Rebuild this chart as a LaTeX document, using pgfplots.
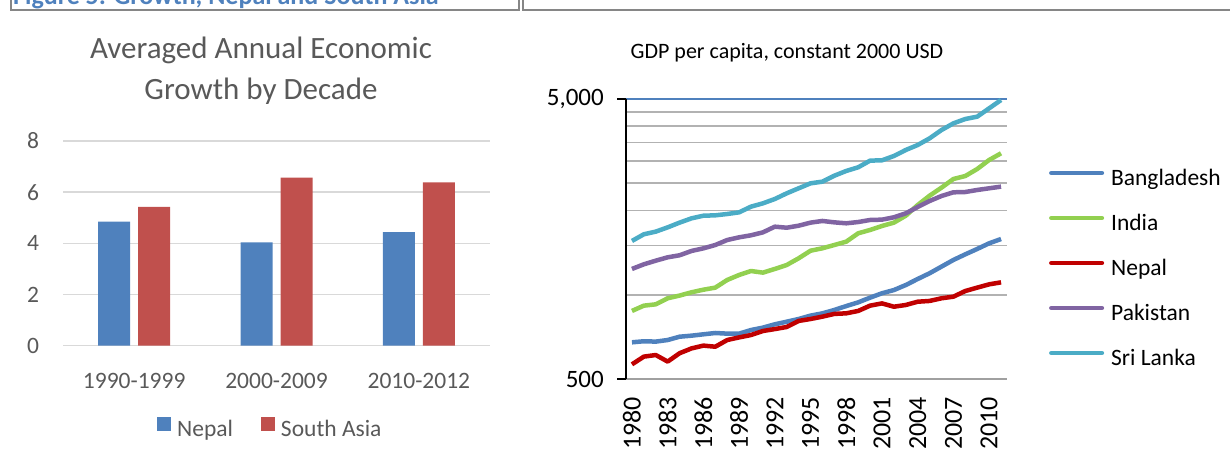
\documentclass[border=0pt]{standalone}
\usepackage{fontspec}
\setmainfont{Carlito}
\usepackage{pgfplots}
\pgfplotsset{compat=1.18}

\definecolor{capblue}{HTML}{4F81BD}
\definecolor{framegray}{HTML}{868686}
\definecolor{txtgray}{HTML}{595959}
\definecolor{gridlight}{HTML}{D9D9D9}
\definecolor{gridgray}{HTML}{B2B2B2}
\definecolor{axisgray}{HTML}{A0A0A0}
\definecolor{nepalbar}{HTML}{4F81BD}
\definecolor{sabar}{HTML}{C0504D}
\definecolor{bgd}{HTML}{4F81BD}
\definecolor{ind}{HTML}{92D050}
\definecolor{npl}{HTML}{C00000}
\definecolor{pak}{HTML}{8064A2}
\definecolor{lka}{HTML}{4BACC6}

\begin{document}
\begin{tikzpicture}[x=1pt,y=1pt]
\useasboundingbox (0,0) rectangle (1230,461);
\clip (0,0) rectangle (1230,461);

% caption, cut at the top edge
\node[anchor=base west, inner sep=0pt, text=capblue,
      font=\fontsize{26}{30}\selectfont\bfseries] at (13,456)
      {Figure 5: Growth, Nepal and South Asia};

% panel frames
\draw[framegray, line width=2pt] (11,470) -- (11,451) -- (519,451) -- (519,470);
\draw[framegray, line width=2pt] (523,470) -- (523,451) -- (1240,451);

% left chart title
\node[anchor=base, inner sep=0pt, text=txtgray, font=\fontsize{31}{41}\selectfont]
      at (261,402) {Averaged Annual Economic};
\node[anchor=base, inner sep=0pt, text=txtgray, font=\fontsize{31}{41}\selectfont]
      at (261,361) {Growth by Decade};

% right chart title
\node[anchor=base, inner sep=0pt, font=\fontsize{22}{26}\selectfont]
      at (787,402) {GDP per capita, constant 2000 USD};

\begin{axis}[
    at={(63pt,115.3pt)}, anchor=south west,
    scale only axis, width=427pt, height=204.7pt,
    xmin=-0.5, xmax=2.5, ymin=0, ymax=8,
    ybar=8pt, bar width=32pt,
    axis line style={draw=none},
    tick style={draw=none},
    xtick={0,1,2},
    xticklabels={1990-1999,2000-2009,2010-2012},
    ytick={0,2,4,6,8},
    ymajorgrids,
    major grid style={color=gridlight, line width=1.5pt},
    /pgf/number format/assume math mode=true,
    ticklabel style={font=\fontsize{23.5}{28}\selectfont, text=txtgray},
    yticklabel style={anchor=center, xshift=-30pt},
    xticklabel style={anchor=center, yshift=-31pt},
    legend columns=2,
    legend style={at={(axis description cs:0.22,-0.475)}, anchor=south west,
        draw=none, fill=none, inner sep=0pt,
        font=\fontsize{23.5}{28}\selectfont, text=txtgray,
        nodes={inner sep=0pt, text height=17pt, text depth=6pt},
        /tikz/every odd column/.append style={column sep=6pt},
        /tikz/every even column/.append style={column sep=28pt}},
    legend image code/.code={\fill[#1] (0pt,0pt) rectangle (14pt,14pt);},
]
\addplot[fill=nepalbar, draw=none] coordinates {(0,4.85) (1,4.04) (2,4.44)};
\addplot[fill=sabar, draw=none] coordinates {(0,5.43) (1,6.57) (2,6.38)};
\legend{Nepal, South Asia}
\end{axis}

\begin{axis}[
    at={(626pt,82pt)}, anchor=south west,
    scale only axis, width=381pt, height=280pt,
    ymode=log, ymin=500, ymax=5000,
    xmin=1979.5, xmax=2011.5,
    axis x line*=bottom, axis y line*=left,
    x axis line style={color=axisgray, line width=2pt},
    y axis line style={color=black, line width=1.5pt},
    xtick={1980,1983,...,2010},
    xtick style={draw=none},
    ytick={500,5000}, yticklabels={500,{5,000}},
    minor ytick={1000,1500,2000,2500,3000,3500,4000,4500},
    ymajorgrids, yminorgrids,
    major grid style={color=capblue, line width=1.5pt},
    minor grid style={color=gridgray, line width=1.6pt},
    ytick style={color=black, line width=1.5pt},
    tick align=outside, major tick length=9pt, minor tick length=0pt,
    /pgf/number format/assume math mode=true,
    x tick label style={/pgf/number format/1000 sep={}},
    xticklabel shift=9pt, yticklabel shift=13pt,
    xticklabel style={font=\fontsize{26}{30}\selectfont, rotate=90,
        anchor=east, inner sep=0pt},
    yticklabel style={font=\fontsize{25}{30}\selectfont, anchor=east, inner sep=0pt},
    legend cell align=left,
    legend style={at={(axis description cs:1.110,0.7536)}, anchor=north west,
        draw=none, fill=none, inner sep=0pt, row sep=22pt,
        font=\fontsize{23.5}{28}\selectfont,
        nodes={inner sep=0pt, text height=17pt, text depth=6pt},
        /tikz/every odd column/.append style={column sep=7pt}},
    legend image code/.code={\draw[#1, line width=4.5pt, line cap=round]
        (0pt,6.7pt) -- (50.5pt,6.7pt);},
    every axis plot/.append style={line width=4.5pt, line join=round, mark=none},
]
\addplot[color=bgd] coordinates {
(1980,676) (1981,682) (1982,680) (1983,689) (1984,708) (1985,714) (1986,722) (1987,730)
(1988,726) (1989,726) (1990,748) (1991,763) (1992,784) (1993,801) (1994,819) (1995,842)
(1996,858) (1997,882) (1998,911) (1999,939) (2000,976) (2001,1012) (2002,1039) (2003,1083)
(2004,1138) (2005,1193) (2006,1260) (2007,1331) (2008,1394) (2009,1457) (2010,1526) (2011,1581)};
\addplot[color=ind] coordinates {
(1980,875) (1981,914) (1982,924) (1983,971) (1984,993) (1985,1020) (1986,1042) (1987,1060)
(1988,1129) (1989,1176) (1990,1215) (1991,1199) (1992,1236) (1993,1277) (1994,1349) (1995,1436)
(1996,1465) (1997,1505) (1998,1547) (1999,1657) (2000,1703) (2001,1760) (2002,1809) (2003,1915)
(2004,2091) (2005,2258) (2006,2412) (2007,2590) (2008,2654) (2009,2812) (2010,3028) (2011,3199)};
\addplot[color=npl] coordinates {
(1980,564) (1981,601) (1982,609) (1983,577) (1984,618) (1985,643) (1986,658) (1987,652)
(1988,689) (1989,704) (1990,718) (1991,742) (1992,754) (1993,767) (1994,806) (1995,819)
(1996,835) (1997,854) (1998,858) (1999,875) (2000,914) (2001,931) (2002,906) (2003,919)
(2004,944) (2005,950) (2006,971) (2007,984) (2008,1031) (2009,1060) (2010,1089) (2011,1107)};
\addplot[color=pak] coordinates {
(1980,1236) (1981,1284) (1982,1323) (1983,1360) (1984,1383) (1985,1433) (1986,1464) (1987,1505)
(1988,1568) (1989,1603) (1990,1630) (1991,1670) (1992,1750) (1993,1735) (1994,1764) (1995,1809)
(1996,1834) (1997,1813) (1998,1799) (1999,1818) (2000,1849) (2001,1854) (2002,1890) (2003,1953)
(2004,2057) (2005,2161) (2006,2252) (2007,2321) (2008,2327) (2009,2366) (2010,2399) (2011,2432)};
\addplot[color=lka] coordinates {
(1980,1556) (1981,1644) (1982,1680) (1983,1740) (1984,1809) (1985,1874) (1986,1915) (1987,1921)
(1988,1942) (1989,1969) (1990,2063) (1991,2120) (1992,2197) (1993,2302) (1994,2399) (1995,2499)
(1996,2534) (1997,2661) (1998,2767) (1999,2851) (2000,3012) (2001,3020) (2002,3129) (2003,3288)
(2004,3425) (2005,3618) (2006,3875) (2007,4093) (2008,4242) (2009,4324) (2010,4631) (2011,4959)};
\legend{Bangladesh, India, Nepal, Pakistan, Sri Lanka}
\end{axis}
\end{tikzpicture}
\end{document}
